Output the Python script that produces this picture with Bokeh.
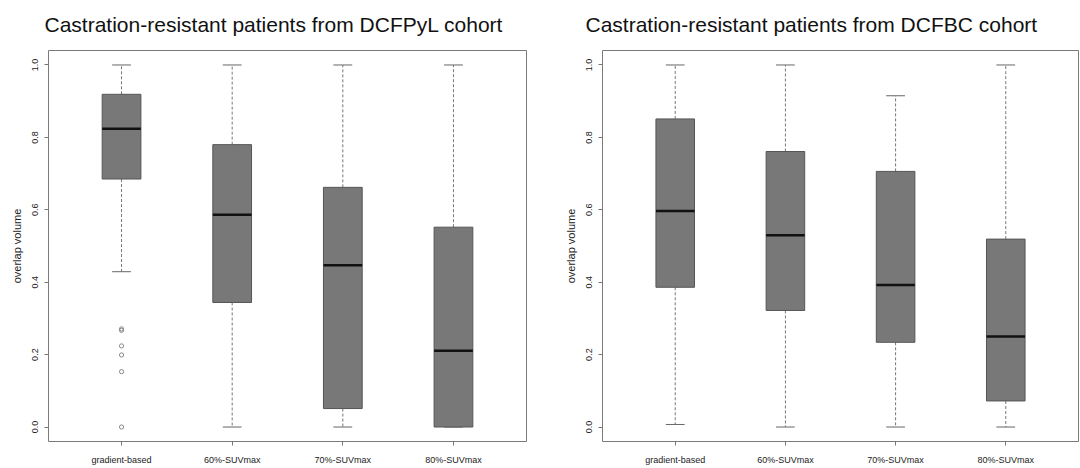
from bokeh.plotting import figure
from bokeh.layouts import row
from bokeh.models import FixedTicker, ColumnDataSource
from bokeh.embed import file_html
from bokeh.resources import INLINE

categories = ["gradient-based", "60%-SUVmax", "70%-SUVmax", "80%-SUVmax"]
positions = [1, 2, 3, 4]

# DCFPyL cohort (left)
pyl_lower = [0.429, 0.0, 0.0, 0.0]
pyl_q1 = [0.685, 0.344, 0.051, 0.0]
pyl_median = [0.824, 0.586, 0.447, 0.211]
pyl_q3 = [0.919, 0.780, 0.662, 0.552]
pyl_upper = [1.0, 1.0, 1.0, 1.0]
pyl_outlier_x = [1, 1, 1, 1, 1, 1]
pyl_outlier_y = [0.271, 0.267, 0.224, 0.199, 0.153, 0.0]

# DCFBC cohort (right)
bc_lower = [0.007, 0.0, 0.0, 0.0]
bc_q1 = [0.386, 0.322, 0.234, 0.072]
bc_median = [0.597, 0.530, 0.392, 0.250]
bc_q3 = [0.851, 0.761, 0.706, 0.519]
bc_upper = [1.0, 1.0, 0.915, 1.0]

y_ticks = [0.0, 0.2, 0.4, 0.6, 0.8, 1.0]

FONT = "Liberation Sans"
BOX_W = 0.35
CAP_W = 0.17


def make_panel(title, lower, q1, med, q3, upper, out_x, out_y, border_left, border_right, title_offset):
    p = figure(width=540, height=468, x_range=(0.34, 4.66), y_range=(-0.04, 1.04),
               output_backend="svg", toolbar_location=None,
               min_border_left=border_left, min_border_right=border_right,
               min_border_top=49, min_border_bottom=27)
    p.title.text = title
    p.title.align = "left"
    p.title.offset = title_offset
    p.title.vertical_align = "top"
    p.title.text_font = FONT
    p.title.text_font_size = "21px"
    p.title.text_font_style = "normal"
    p.title.text_color = "#111111"
    p.title.standoff = 25

    p.grid.visible = False
    p.outline_line_color = "#7a7a7a"
    p.outline_line_width = 1
    p.background_fill_color = "white"
    p.border_fill_color = "white"

    src = ColumnDataSource(dict(
        x=positions, lower=lower, q1=q1, med=med, q3=q3, upper=upper,
        xl=[x - BOX_W / 2 for x in positions], xr=[x + BOX_W / 2 for x in positions],
        cl=[x - CAP_W / 2 for x in positions], cr=[x + CAP_W / 2 for x in positions],
    ))
    # whiskers
    p.segment(x0="x", y0="q3", x1="x", y1="upper", source=src, line_color="#777777",
              line_dash="3 2", line_width=1)
    p.segment(x0="x", y0="q1", x1="x", y1="lower", source=src, line_color="#777777",
              line_dash="3 2", line_width=1)
    # caps
    p.segment(x0="cl", y0="upper", x1="cr", y1="upper", source=src, line_color="#666666", line_width=1)
    p.segment(x0="cl", y0="lower", x1="cr", y1="lower", source=src, line_color="#666666", line_width=1)
    # boxes
    p.vbar(x="x", width=BOX_W, bottom="q1", top="q3", source=src,
           fill_color="#787878", line_color="#555555", line_width=1)
    # medians
    p.segment(x0="xl", y0="med", x1="xr", y1="med", source=src, line_color="#111111", line_width=2.5)
    if out_x:
        p.scatter(x=out_x, y=out_y, marker="circle", size=4.2, fill_color=None,
                  line_color="#888888", line_width=1)

    p.xaxis.ticker = FixedTicker(ticks=positions)
    p.xaxis.major_label_overrides = {pos: c for pos, c in zip(positions, categories)}
    p.yaxis.ticker = FixedTicker(ticks=y_ticks)
    p.yaxis.major_label_overrides = {t: f"{t:.1f}" for t in y_ticks}
    p.yaxis.major_label_orientation = "vertical"
    p.yaxis.axis_label = "overlap volume"
    p.yaxis.axis_label_text_font = FONT
    p.yaxis.axis_label_text_font_size = "11px"
    p.yaxis.axis_label_text_font_style = "normal"
    p.yaxis.axis_label_text_color = "#222222"
    p.yaxis.axis_label_standoff = 7
    for ax in (p.xaxis, p.yaxis):
        ax.axis_line_color = None
        ax.major_tick_in = 0
        ax.major_tick_out = 4
        ax.major_tick_line_color = "#777777"
        ax.minor_tick_line_color = None
        ax.major_label_text_font = FONT
        ax.major_label_text_font_size = "9px"
        ax.major_label_text_color = "#222222"
    p.yaxis.major_label_standoff = 6
    p.xaxis.major_label_standoff = 9
    return p


p1 = make_panel("Castration-resistant patients from DCFPyL cohort",
                pyl_lower, pyl_q1, pyl_median, pyl_q3, pyl_upper,
                pyl_outlier_x, pyl_outlier_y, 48, 14, -4)
p2 = make_panel("Castration-resistant patients from DCFBC cohort",
                bc_lower, bc_q1, bc_median, bc_q3, bc_upper,
                [], [], 62, 2, -17)

layout = row(p1, p2)
open("out.html", "w").write(file_html(layout, INLINE))
